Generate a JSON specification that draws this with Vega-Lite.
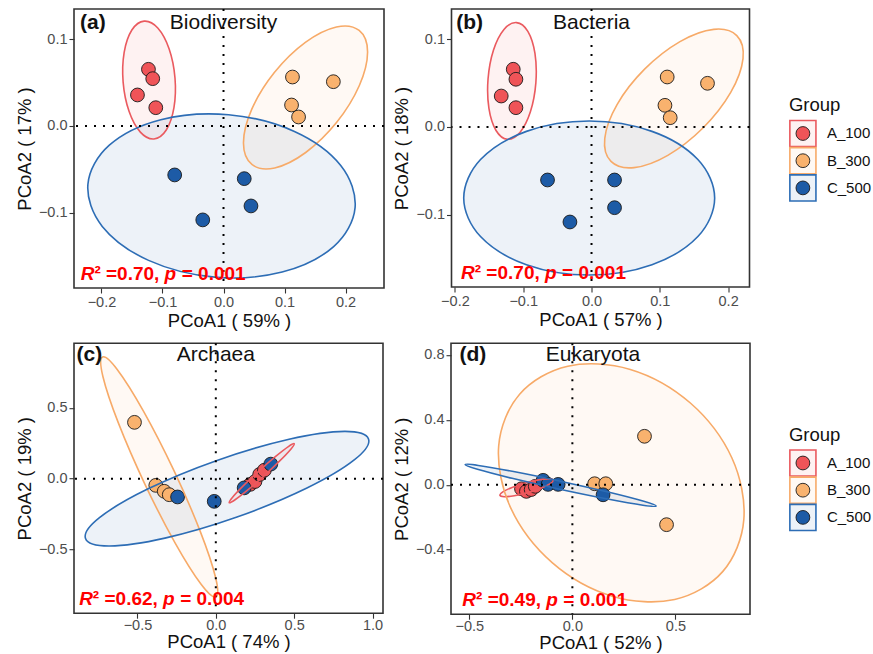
{
"$schema":"https://vega.github.io/schema/vega-lite/v6.json",
"background":"white",
"padding":{"left":14,"top":7,"right":0,"bottom":0},
"config":{"font":"Liberation Sans","view":{"stroke":"#333333","strokeWidth":1.6},
"axis":{"domain":false,"grid":false,"ticks":true,"tickColor":"#333333","tickSize":5,"tickWidth":1.1,"labelFontSize":14.5,"labelColor":"#4D4D4D","labelPadding":2,"titleFontSize":18.5,"titleFontWeight":"normal","titleColor":"#111111"}},
"datasets":{
"pa":[{"g":"A_100","x":-0.123,"y":0.0654},{"g":"A_100","x":-0.116,"y":0.0546},{"g":"A_100","x":-0.141,"y":0.0358},{"g":"A_100","x":-0.111,"y":0.0211},{"g":"B_300","x":0.113,"y":0.0565},{"g":"B_300","x":0.18,"y":0.0511},{"g":"B_300","x":0.1115,"y":0.0242},{"g":"B_300","x":0.123,"y":0.0104},{"g":"C_500","x":-0.08,"y":-0.0565},{"g":"C_500","x":-0.034,"y":-0.1084},{"g":"C_500","x":0.034,"y":-0.0608},{"g":"C_500","x":0.045,"y":-0.0923}],
"pb":[{"g":"A_100","x":-0.1146,"y":0.0658},{"g":"A_100","x":-0.1107,"y":0.0544},{"g":"A_100","x":-0.1322,"y":0.0353},{"g":"A_100","x":-0.1107,"y":0.022},{"g":"B_300","x":0.1108,"y":0.057},{"g":"B_300","x":0.1698,"y":0.0498},{"g":"B_300","x":0.1075,"y":0.0247},{"g":"B_300","x":0.1152,"y":0.0106},{"g":"C_500","x":-0.0644,"y":-0.0604},{"g":"C_500","x":-0.0316,"y":-0.1083},{"g":"C_500","x":0.0337,"y":-0.0604},{"g":"C_500","x":0.0337,"y":-0.092}],
"pc":[{"g":"A_100","x":0.22,"y":-0.04},{"g":"A_100","x":0.25,"y":-0.02},{"g":"A_100","x":0.28,"y":0.03},{"g":"A_100","x":0.31,"y":0.06},{"g":"B_300","x":-0.519,"y":0.398},{"g":"B_300","x":-0.383,"y":-0.047},{"g":"B_300","x":-0.329,"y":-0.089},{"g":"B_300","x":-0.297,"y":-0.113},{"g":"C_500","x":-0.244,"y":-0.129},{"g":"C_500","x":-0.01,"y":-0.16},{"g":"C_500","x":0.181,"y":-0.065},{"g":"C_500","x":0.351,"y":0.103}],
"pd":[{"g":"A_100","x":-0.247,"y":-0.025},{"g":"A_100","x":-0.223,"y":-0.041},{"g":"A_100","x":-0.2,"y":-0.03},{"g":"A_100","x":-0.18,"y":-0.01},{"g":"B_300","x":0.35,"y":0.298},{"g":"B_300","x":0.457,"y":-0.246},{"g":"B_300","x":0.108,"y":0.006},{"g":"B_300","x":0.162,"y":0.006},{"g":"C_500","x":0.149,"y":-0.062},{"g":"C_500","x":-0.142,"y":0.027},{"g":"C_500","x":-0.118,"y":0.002},{"g":"C_500","x":-0.069,"y":0.002}],
"ea":[
{"g":"A_100","k":0,"x":-0.13,"y":0.121},{"g":"A_100","k":1,"x":-0.1077,"y":0.1131},{"g":"A_100","k":2,"x":-0.0892,"y":0.0891},{"g":"A_100","k":3,"x":-0.0795,"y":0.0554},{"g":"A_100","k":4,"x":-0.0812,"y":0.0211},{"g":"A_100","k":5,"x":-0.0938,"y":-0.0047},{"g":"A_100","k":6,"x":-0.114,"y":-0.015},{"g":"A_100","k":7,"x":-0.1363,"y":-0.0071},{"g":"A_100","k":8,"x":-0.1548,"y":0.0169},{"g":"A_100","k":9,"x":-0.1645,"y":0.0506},{"g":"A_100","k":10,"x":-0.1628,"y":0.0849},{"g":"A_100","k":11,"x":-0.1502,"y":0.1107},
{"g":"B_300","k":0,"x":0.2223,"y":0.1102},{"g":"B_300","k":1,"x":0.2361,"y":0.0855},{"g":"B_300","k":2,"x":0.2226,"y":0.0467},{"g":"B_300","k":3,"x":0.1855,"y":0.0042},{"g":"B_300","k":4,"x":0.1347,"y":-0.0306},{"g":"B_300","k":5,"x":0.0839,"y":-0.0484},{"g":"B_300","k":6,"x":0.0465,"y":-0.0444},{"g":"B_300","k":7,"x":0.0327,"y":-0.0197},{"g":"B_300","k":8,"x":0.0462,"y":0.0191},{"g":"B_300","k":9,"x":0.0833,"y":0.0616},{"g":"B_300","k":10,"x":0.1341,"y":0.0964},{"g":"B_300","k":11,"x":0.185,"y":0.1142},
{"g":"C_500","k":0,"x":0.2156,"y":-0.0942},{"g":"C_500","k":1,"x":0.1805,"y":-0.1392},{"g":"C_500","k":2,"x":0.0961,"y":-0.1686},{"g":"C_500","k":3,"x":-0.0149,"y":-0.1744},{"g":"C_500","k":4,"x":-0.1228,"y":-0.1551},{"g":"C_500","k":5,"x":-0.1987,"y":-0.1159},{"g":"C_500","k":6,"x":-0.2222,"y":-0.0672},{"g":"C_500","k":7,"x":-0.1871,"y":-0.0222},{"g":"C_500","k":8,"x":-0.1027,"y":0.0072},{"g":"C_500","k":9,"x":0.0083,"y":0.013},{"g":"C_500","k":10,"x":0.1162,"y":-0.0063},{"g":"C_500","k":11,"x":0.1921,"y":-0.0455}],
"eb":[
{"g":"A_100","k":0,"x":-0.1098,"y":0.119},{"g":"A_100","k":1,"x":-0.0932,"y":0.109},{"g":"A_100","k":2,"x":-0.0828,"y":0.0838},{"g":"A_100","k":3,"x":-0.0815,"y":0.0503},{"g":"A_100","k":4,"x":-0.0895,"y":0.0173},{"g":"A_100","k":5,"x":-0.1048,"y":-0.0062},{"g":"A_100","k":6,"x":-0.1232,"y":-0.014},{"g":"A_100","k":7,"x":-0.1398,"y":-0.004},{"g":"A_100","k":8,"x":-0.1502,"y":0.0212},{"g":"A_100","k":9,"x":-0.1515,"y":0.0547},{"g":"A_100","k":10,"x":-0.1435,"y":0.0877},{"g":"A_100","k":11,"x":-0.1282,"y":0.1112},
{"g":"B_300","k":0,"x":0.2127,"y":0.1042},{"g":"B_300","k":1,"x":0.2218,"y":0.0779},{"g":"B_300","k":2,"x":0.2038,"y":0.0394},{"g":"B_300","k":3,"x":0.1635,"y":-0.0009},{"g":"B_300","k":4,"x":0.1117,"y":-0.0323},{"g":"B_300","k":5,"x":0.0623,"y":-0.0463},{"g":"B_300","k":6,"x":0.0285,"y":-0.0392},{"g":"B_300","k":7,"x":0.0194,"y":-0.0129},{"g":"B_300","k":8,"x":0.0374,"y":0.0256},{"g":"B_300","k":9,"x":0.0777,"y":0.0659},{"g":"B_300","k":10,"x":0.1295,"y":0.0973},{"g":"B_300","k":11,"x":0.1789,"y":0.1113},
{"g":"C_500","k":0,"x":0.1803,"y":-0.081},{"g":"C_500","k":1,"x":0.1557,"y":-0.0371},{"g":"C_500","k":2,"x":0.0885,"y":-0.005},{"g":"C_500","k":3,"x":-0.0034,"y":0.0068},{"g":"C_500","k":4,"x":-0.0953,"y":-0.005},{"g":"C_500","k":5,"x":-0.1625,"y":-0.0371},{"g":"C_500","k":6,"x":-0.1871,"y":-0.081},{"g":"C_500","k":7,"x":-0.1625,"y":-0.1249},{"g":"C_500","k":8,"x":-0.0953,"y":-0.157},{"g":"C_500","k":9,"x":-0.0034,"y":-0.1688},{"g":"C_500","k":10,"x":0.0885,"y":-0.157},{"g":"C_500","k":11,"x":0.1557,"y":-0.1249}],
"ec":[
{"g":"A_100","k":0,"x":0.5004,"y":0.2473},{"g":"A_100","k":1,"x":0.4801,"y":0.2102},{"g":"A_100","k":2,"x":0.4096,"y":0.1272},{"g":"A_100","k":3,"x":0.3079,"y":0.0206},{"g":"A_100","k":4,"x":0.2022,"y":-0.0811},{"g":"A_100","k":5,"x":0.1208,"y":-0.1506},{"g":"A_100","k":6,"x":0.0856,"y":-0.1693},{"g":"A_100","k":7,"x":0.1059,"y":-0.1322},{"g":"A_100","k":8,"x":0.1764,"y":-0.0492},{"g":"A_100","k":9,"x":0.2781,"y":0.0574},{"g":"A_100","k":10,"x":0.3838,"y":0.1591},{"g":"A_100","k":11,"x":0.4652,"y":0.2286},
{"g":"B_300","k":0,"x":0.0008,"y":-0.8355},{"g":"B_300","k":1,"x":-0.0014,"y":-0.6979},{"g":"B_300","k":2,"x":-0.1,"y":-0.3702},{"g":"B_300","k":3,"x":-0.2685,"y":0.06},{"g":"B_300","k":4,"x":-0.4618,"y":0.4773},{"g":"B_300","k":5,"x":-0.6281,"y":0.7699},{"g":"B_300","k":6,"x":-0.7228,"y":0.8595},{"g":"B_300","k":7,"x":-0.7206,"y":0.7219},{"g":"B_300","k":8,"x":-0.622,"y":0.3942},{"g":"B_300","k":9,"x":-0.4535,"y":-0.036},{"g":"B_300","k":10,"x":-0.2602,"y":-0.4533},{"g":"B_300","k":11,"x":-0.0939,"y":-0.7459},
{"g":"C_500","k":0,"x":0.9745,"y":0.2811},{"g":"C_500","k":1,"x":0.8854,"y":0.134},{"g":"C_500","k":2,"x":0.5783,"y":-0.0679},{"g":"C_500","k":3,"x":0.1353,"y":-0.2705},{"g":"C_500","k":4,"x":-0.3248,"y":-0.4196},{"g":"C_500","k":5,"x":-0.6786,"y":-0.4751},{"g":"C_500","k":6,"x":-0.8315,"y":-0.4223},{"g":"C_500","k":7,"x":-0.7424,"y":-0.2752},{"g":"C_500","k":8,"x":-0.4353,"y":-0.0733},{"g":"C_500","k":9,"x":0.0077,"y":0.1293},{"g":"C_500","k":10,"x":0.4678,"y":0.2784},{"g":"C_500","k":11,"x":0.8216,"y":0.3339}],
"ed":[
{"g":"A_100","k":0,"x":-0.0934,"y":0.0271},{"g":"A_100","k":1,"x":-0.1075,"y":0.0062},{"g":"A_100","k":2,"x":-0.1524,"y":-0.0216},{"g":"A_100","k":3,"x":-0.2161,"y":-0.0486},{"g":"A_100","k":4,"x":-0.2816,"y":-0.0678},{"g":"A_100","k":5,"x":-0.3312,"y":-0.0739},{"g":"A_100","k":6,"x":-0.3518,"y":-0.0653},{"g":"A_100","k":7,"x":-0.3377,"y":-0.0444},{"g":"A_100","k":8,"x":-0.2928,"y":-0.0166},{"g":"A_100","k":9,"x":-0.2291,"y":0.0104},{"g":"A_100","k":10,"x":-0.1636,"y":0.0296},{"g":"A_100","k":11,"x":-0.114,"y":0.0357},
{"g":"B_300","k":0,"x":0.7304,"y":-0.5335},{"g":"B_300","k":1,"x":0.4966,"y":-0.706},{"g":"B_300","k":2,"x":0.1933,"y":-0.6862},{"g":"B_300","k":3,"x":-0.0982,"y":-0.4794},{"g":"B_300","k":4,"x":-0.2999,"y":-0.141},{"g":"B_300","k":5,"x":-0.3576,"y":0.2383},{"g":"B_300","k":6,"x":-0.256,"y":0.5569},{"g":"B_300","k":7,"x":-0.0222,"y":0.7294},{"g":"B_300","k":8,"x":0.2811,"y":0.7096},{"g":"B_300","k":9,"x":0.5726,"y":0.5028},{"g":"B_300","k":10,"x":0.7743,"y":0.1644},{"g":"B_300","k":11,"x":0.832,"y":-0.2149},
{"g":"C_500","k":0,"x":0.4066,"y":-0.1311},{"g":"C_500","k":1,"x":0.3424,"y":-0.126},{"g":"C_500","k":2,"x":0.1712,"y":-0.0882},{"g":"C_500","k":3,"x":-0.0612,"y":-0.0277},{"g":"C_500","k":4,"x":-0.2925,"y":0.0392},{"g":"C_500","k":5,"x":-0.4607,"y":0.0946},{"g":"C_500","k":6,"x":-0.5208,"y":0.1237},{"g":"C_500","k":7,"x":-0.4566,"y":0.1186},{"g":"C_500","k":8,"x":-0.2854,"y":0.0808},{"g":"C_500","k":9,"x":-0.053,"y":0.0203},{"g":"C_500","k":10,"x":0.1783,"y":-0.0466},{"g":"C_500","k":11,"x":0.3465,"y":-0.102}],
"sa":[{"x":-0.234,"y":-0.171,"r":"R","r2":"\u00b2\u00a0=0.70,\u00a0","p":"p","pv":"=\u00a00.001"}],
"sb":[{"x":-0.191,"y":-0.167,"r":"R","r2":"\u00b2\u00a0=0.70,\u00a0","p":"p","pv":"=\u00a00.001"}],
"sc":[{"x":-0.872,"y":-0.847,"r":"R","r2":"\u00b2\u00a0=0.62,\u00a0","p":"p","pv":"=\u00a00.004"}],
"sd":[{"x":-0.534,"y":-0.711,"r":"R","r2":"\u00b2\u00a0=0.49,\u00a0","p":"p","pv":"=\u00a00.001"}],
"grp":[{"g":"A_100","pos":1},{"g":"B_300","pos":2},{"g":"C_500","pos":3}],
"gt":[{"g":"Group","pos":0}]
},
"vconcat":[
{"hconcat":[
{"hconcat":[
{"width":310,"height":279,"layer":[
{"data":{"name":"ea"},"mark":{"type":"line","interpolate":"cardinal-closed","fillOpacity":0.08,"strokeOpacity":0},"encoding":{"x":{"field":"x","type":"quantitative","scale":{"domain":[-0.245,0.263],"nice":false,"zero":false},"axis":{"values":[-0.2,-0.1,0,0.1,0.2],"format":".1f","title":"PCoA1 ( 59% )","titlePadding":2.5}},"y":{"field":"y","type":"quantitative","scale":{"domain":[-0.187,0.135],"nice":false,"zero":false},"axis":{"values":[-0.1,0,0.1],"format":".1f","title":"PCoA2 ( 17% )","titlePadding":4}},"order":{"field":"k","type":"quantitative"},"fill":{"field":"g","type":"nominal","scale":{"domain":["A_100","B_300","C_500"],"range":["#EF5458","#F9B26E","#1D5BA6"]},"legend":null}}},
{"data":{"name":"pa"},"mark":{"type":"point","filled":true,"size":190,"stroke":"#1a1a1a","strokeWidth":0.9,"opacity":1},"encoding":{"x":{"field":"x","type":"quantitative","scale":{"domain":[-0.245,0.263],"nice":false,"zero":false},"axis":{"values":[-0.2,-0.1,0,0.1,0.2],"format":".1f","title":"PCoA1 ( 59% )","titlePadding":2.5}},"y":{"field":"y","type":"quantitative","scale":{"domain":[-0.187,0.135],"nice":false,"zero":false},"axis":{"values":[-0.1,0,0.1],"format":".1f","title":"PCoA2 ( 17% )","titlePadding":4}},"fill":{"field":"g","type":"nominal","scale":{"domain":["A_100","B_300","C_500"],"range":["#EF5458","#F9B26E","#1D5BA6"]},"legend":null}}},
{"data":{"name":"ea"},"mark":{"type":"line","interpolate":"cardinal-closed","strokeWidth":1.6},"encoding":{"x":{"field":"x","type":"quantitative","scale":{"domain":[-0.245,0.263],"nice":false,"zero":false},"axis":{"values":[-0.2,-0.1,0,0.1,0.2],"format":".1f","title":"PCoA1 ( 59% )","titlePadding":2.5}},"y":{"field":"y","type":"quantitative","scale":{"domain":[-0.187,0.135],"nice":false,"zero":false},"axis":{"values":[-0.1,0,0.1],"format":".1f","title":"PCoA2 ( 17% )","titlePadding":4}},"order":{"field":"k","type":"quantitative"},"stroke":{"field":"g","type":"nominal","scale":{"domain":["A_100","B_300","C_500"],"range":["#EA5A5F","#F7AA68","#2D6DB5"]},"legend":null}}},
{"data":{"values":[{}]},"mark":{"type":"rule","strokeDash":[2,7],"strokeWidth":2,"color":"#000000"},"encoding":{"x":{"datum":0,"type":"quantitative","scale":{"domain":[-0.245,0.263],"nice":false,"zero":false},"axis":{"values":[-0.2,-0.1,0,0.1,0.2],"format":".1f","title":"PCoA1 ( 59% )","titlePadding":2.5}}}},
{"data":{"values":[{}]},"mark":{"type":"rule","strokeDash":[2,7],"strokeWidth":2,"color":"#000000"},"encoding":{"y":{"datum":0,"type":"quantitative","scale":{"domain":[-0.187,0.135],"nice":false,"zero":false},"axis":{"values":[-0.1,0,0.1],"format":".1f","title":"PCoA2 ( 17% )","titlePadding":4}}}},
{"data":{"values":[{"x":-0.235,"y":0.119,"t":"(a)"}]},"mark":{"type":"text","align":"left","baseline":"middle","fontSize":21,"fontWeight":"bold","color":"#111111"},"encoding":{"x":{"field":"x","type":"quantitative","scale":{"domain":[-0.245,0.263],"nice":false,"zero":false},"axis":{"values":[-0.2,-0.1,0,0.1,0.2],"format":".1f","title":"PCoA1 ( 59% )","titlePadding":2.5}},"y":{"field":"y","type":"quantitative","scale":{"domain":[-0.187,0.135],"nice":false,"zero":false},"axis":{"values":[-0.1,0,0.1],"format":".1f","title":"PCoA2 ( 17% )","titlePadding":4}},"text":{"field":"t"}}},
{"data":{"values":[{"x":0,"y":0.119,"t":"Biodiversity"}]},"mark":{"type":"text","align":"center","baseline":"middle","fontSize":21,"color":"#111111"},"encoding":{"x":{"field":"x","type":"quantitative","scale":{"domain":[-0.245,0.263],"nice":false,"zero":false},"axis":{"values":[-0.2,-0.1,0,0.1,0.2],"format":".1f","title":"PCoA1 ( 59% )","titlePadding":2.5}},"y":{"field":"y","type":"quantitative","scale":{"domain":[-0.187,0.135],"nice":false,"zero":false},"axis":{"values":[-0.1,0,0.1],"format":".1f","title":"PCoA2 ( 17% )","titlePadding":4}},"text":{"field":"t"}}},
{"data":{"name":"sa"},"mark":{"type":"text","align":"left","baseline":"middle","fontSize":19,"fontWeight":"bold","fontStyle":"italic","color":"#FF0000"},"encoding":{"x":{"field":"x","type":"quantitative","scale":{"domain":[-0.245,0.263],"nice":false,"zero":false},"axis":{"values":[-0.2,-0.1,0,0.1,0.2],"format":".1f","title":"PCoA1 ( 59% )","titlePadding":2.5}},"y":{"field":"y","type":"quantitative","scale":{"domain":[-0.187,0.135],"nice":false,"zero":false},"axis":{"values":[-0.1,0,0.1],"format":".1f","title":"PCoA2 ( 17% )","titlePadding":4}},"text":{"field":"r"}}},
{"data":{"name":"sa"},"mark":{"type":"text","align":"left","baseline":"middle","fontSize":19,"fontWeight":"bold","dx":13.7,"color":"#FF0000"},"encoding":{"x":{"field":"x","type":"quantitative","scale":{"domain":[-0.245,0.263],"nice":false,"zero":false},"axis":{"values":[-0.2,-0.1,0,0.1,0.2],"format":".1f","title":"PCoA1 ( 59% )","titlePadding":2.5}},"y":{"field":"y","type":"quantitative","scale":{"domain":[-0.187,0.135],"nice":false,"zero":false},"axis":{"values":[-0.1,0,0.1],"format":".1f","title":"PCoA2 ( 17% )","titlePadding":4}},"text":{"field":"r2"}}},
{"data":{"name":"sa"},"mark":{"type":"text","align":"left","baseline":"middle","fontSize":19,"fontWeight":"bold","fontStyle":"italic","dx":83.9,"color":"#FF0000"},"encoding":{"x":{"field":"x","type":"quantitative","scale":{"domain":[-0.245,0.263],"nice":false,"zero":false},"axis":{"values":[-0.2,-0.1,0,0.1,0.2],"format":".1f","title":"PCoA1 ( 59% )","titlePadding":2.5}},"y":{"field":"y","type":"quantitative","scale":{"domain":[-0.187,0.135],"nice":false,"zero":false},"axis":{"values":[-0.1,0,0.1],"format":".1f","title":"PCoA2 ( 17% )","titlePadding":4}},"text":{"field":"p"}}},
{"data":{"name":"sa"},"mark":{"type":"text","align":"left","baseline":"middle","fontSize":19,"fontWeight":"bold","dx":101,"color":"#FF0000"},"encoding":{"x":{"field":"x","type":"quantitative","scale":{"domain":[-0.245,0.263],"nice":false,"zero":false},"axis":{"values":[-0.2,-0.1,0,0.1,0.2],"format":".1f","title":"PCoA1 ( 59% )","titlePadding":2.5}},"y":{"field":"y","type":"quantitative","scale":{"domain":[-0.187,0.135],"nice":false,"zero":false},"axis":{"values":[-0.1,0,0.1],"format":".1f","title":"PCoA2 ( 17% )","titlePadding":4}},"text":{"field":"pv"}}}
]},
{"width":298,"height":278,"layer":[
{"data":{"name":"eb"},"mark":{"type":"line","interpolate":"cardinal-closed","fillOpacity":0.08,"strokeOpacity":0},"encoding":{"x":{"field":"x","type":"quantitative","scale":{"domain":[-0.205,0.2313],"nice":false,"zero":false},"axis":{"values":[-0.2,-0.1,0,0.1,0.2],"format":".1f","title":"PCoA1 ( 57% )","titlePadding":2.5}},"y":{"field":"y","type":"quantitative","scale":{"domain":[-0.1824,0.1345],"nice":false,"zero":false},"axis":{"values":[-0.1,0,0.1],"format":".1f","title":"PCoA2 ( 18% )","titlePadding":4.5}},"order":{"field":"k","type":"quantitative"},"fill":{"field":"g","type":"nominal","scale":{"domain":["A_100","B_300","C_500"],"range":["#EF5458","#F9B26E","#1D5BA6"]},"legend":null}}},
{"data":{"name":"pb"},"mark":{"type":"point","filled":true,"size":190,"stroke":"#1a1a1a","strokeWidth":0.9,"opacity":1},"encoding":{"x":{"field":"x","type":"quantitative","scale":{"domain":[-0.205,0.2313],"nice":false,"zero":false},"axis":{"values":[-0.2,-0.1,0,0.1,0.2],"format":".1f","title":"PCoA1 ( 57% )","titlePadding":2.5}},"y":{"field":"y","type":"quantitative","scale":{"domain":[-0.1824,0.1345],"nice":false,"zero":false},"axis":{"values":[-0.1,0,0.1],"format":".1f","title":"PCoA2 ( 18% )","titlePadding":4.5}},"fill":{"field":"g","type":"nominal","scale":{"domain":["A_100","B_300","C_500"],"range":["#EF5458","#F9B26E","#1D5BA6"]},"legend":null}}},
{"data":{"name":"eb"},"mark":{"type":"line","interpolate":"cardinal-closed","strokeWidth":1.6},"encoding":{"x":{"field":"x","type":"quantitative","scale":{"domain":[-0.205,0.2313],"nice":false,"zero":false},"axis":{"values":[-0.2,-0.1,0,0.1,0.2],"format":".1f","title":"PCoA1 ( 57% )","titlePadding":2.5}},"y":{"field":"y","type":"quantitative","scale":{"domain":[-0.1824,0.1345],"nice":false,"zero":false},"axis":{"values":[-0.1,0,0.1],"format":".1f","title":"PCoA2 ( 18% )","titlePadding":4.5}},"order":{"field":"k","type":"quantitative"},"stroke":{"field":"g","type":"nominal","scale":{"domain":["A_100","B_300","C_500"],"range":["#EA5A5F","#F7AA68","#2D6DB5"]},"legend":null}}},
{"data":{"values":[{}]},"mark":{"type":"rule","strokeDash":[2,7],"strokeWidth":2,"color":"#000000"},"encoding":{"x":{"datum":0,"type":"quantitative","scale":{"domain":[-0.205,0.2313],"nice":false,"zero":false},"axis":{"values":[-0.2,-0.1,0,0.1,0.2],"format":".1f","title":"PCoA1 ( 57% )","titlePadding":2.5}}}},
{"data":{"values":[{}]},"mark":{"type":"rule","strokeDash":[2,7],"strokeWidth":2,"color":"#000000"},"encoding":{"y":{"datum":0,"type":"quantitative","scale":{"domain":[-0.1824,0.1345],"nice":false,"zero":false},"axis":{"values":[-0.1,0,0.1],"format":".1f","title":"PCoA2 ( 18% )","titlePadding":4.5}}}},
{"data":{"values":[{"x":-0.198,"y":0.1186,"t":"(b)"}]},"mark":{"type":"text","align":"left","baseline":"middle","fontSize":21,"fontWeight":"bold","color":"#111111"},"encoding":{"x":{"field":"x","type":"quantitative","scale":{"domain":[-0.205,0.2313],"nice":false,"zero":false},"axis":{"values":[-0.2,-0.1,0,0.1,0.2],"format":".1f","title":"PCoA1 ( 57% )","titlePadding":2.5}},"y":{"field":"y","type":"quantitative","scale":{"domain":[-0.1824,0.1345],"nice":false,"zero":false},"axis":{"values":[-0.1,0,0.1],"format":".1f","title":"PCoA2 ( 18% )","titlePadding":4.5}},"text":{"field":"t"}}},
{"data":{"values":[{"x":0,"y":0.1186,"t":"Bacteria"}]},"mark":{"type":"text","align":"center","baseline":"middle","fontSize":21,"color":"#111111"},"encoding":{"x":{"field":"x","type":"quantitative","scale":{"domain":[-0.205,0.2313],"nice":false,"zero":false},"axis":{"values":[-0.2,-0.1,0,0.1,0.2],"format":".1f","title":"PCoA1 ( 57% )","titlePadding":2.5}},"y":{"field":"y","type":"quantitative","scale":{"domain":[-0.1824,0.1345],"nice":false,"zero":false},"axis":{"values":[-0.1,0,0.1],"format":".1f","title":"PCoA2 ( 18% )","titlePadding":4.5}},"text":{"field":"t"}}},
{"data":{"name":"sb"},"mark":{"type":"text","align":"left","baseline":"middle","fontSize":19,"fontWeight":"bold","fontStyle":"italic","color":"#FF0000"},"encoding":{"x":{"field":"x","type":"quantitative","scale":{"domain":[-0.205,0.2313],"nice":false,"zero":false},"axis":{"values":[-0.2,-0.1,0,0.1,0.2],"format":".1f","title":"PCoA1 ( 57% )","titlePadding":2.5}},"y":{"field":"y","type":"quantitative","scale":{"domain":[-0.1824,0.1345],"nice":false,"zero":false},"axis":{"values":[-0.1,0,0.1],"format":".1f","title":"PCoA2 ( 18% )","titlePadding":4.5}},"text":{"field":"r"}}},
{"data":{"name":"sb"},"mark":{"type":"text","align":"left","baseline":"middle","fontSize":19,"fontWeight":"bold","dx":13.7,"color":"#FF0000"},"encoding":{"x":{"field":"x","type":"quantitative","scale":{"domain":[-0.205,0.2313],"nice":false,"zero":false},"axis":{"values":[-0.2,-0.1,0,0.1,0.2],"format":".1f","title":"PCoA1 ( 57% )","titlePadding":2.5}},"y":{"field":"y","type":"quantitative","scale":{"domain":[-0.1824,0.1345],"nice":false,"zero":false},"axis":{"values":[-0.1,0,0.1],"format":".1f","title":"PCoA2 ( 18% )","titlePadding":4.5}},"text":{"field":"r2"}}},
{"data":{"name":"sb"},"mark":{"type":"text","align":"left","baseline":"middle","fontSize":19,"fontWeight":"bold","fontStyle":"italic","dx":83.9,"color":"#FF0000"},"encoding":{"x":{"field":"x","type":"quantitative","scale":{"domain":[-0.205,0.2313],"nice":false,"zero":false},"axis":{"values":[-0.2,-0.1,0,0.1,0.2],"format":".1f","title":"PCoA1 ( 57% )","titlePadding":2.5}},"y":{"field":"y","type":"quantitative","scale":{"domain":[-0.1824,0.1345],"nice":false,"zero":false},"axis":{"values":[-0.1,0,0.1],"format":".1f","title":"PCoA2 ( 18% )","titlePadding":4.5}},"text":{"field":"p"}}},
{"data":{"name":"sb"},"mark":{"type":"text","align":"left","baseline":"middle","fontSize":19,"fontWeight":"bold","dx":101,"color":"#FF0000"},"encoding":{"x":{"field":"x","type":"quantitative","scale":{"domain":[-0.205,0.2313],"nice":false,"zero":false},"axis":{"values":[-0.2,-0.1,0,0.1,0.2],"format":".1f","title":"PCoA1 ( 57% )","titlePadding":2.5}},"y":{"field":"y","type":"quantitative","scale":{"domain":[-0.1824,0.1345],"nice":false,"zero":false},"axis":{"values":[-0.1,0,0.1],"format":".1f","title":"PCoA2 ( 18% )","titlePadding":4.5}},"text":{"field":"pv"}}}
]}
],"spacing":5.5},
{"width":28,"height":279,"view":{"stroke":"transparent","fill":"transparent"},"layer":[
{"data":{"name":"gt"},"mark":{"type":"text","align":"left","baseline":"middle","dx":-14,"dy":-1,"fontSize":18.5,"color":"#111111"},"encoding":{"y":{"field":"pos","type":"quantitative","scale":{"domain":[-3.577,6.68],"reverse":true,"nice":false,"zero":false},"axis":null},"text":{"field":"g"}}},
{"data":{"name":"grp"},"mark":{"type":"square","size":680,"filled":true,"opacity":1,"fillOpacity":0.08,"strokeWidth":1.6},"encoding":{"y":{"field":"pos","type":"quantitative","scale":{"domain":[-3.577,6.68],"reverse":true,"nice":false,"zero":false},"axis":null},"fill":{"field":"g","type":"nominal","scale":{"domain":["A_100","B_300","C_500"],"range":["#EF5458","#F9B26E","#1D5BA6"]},"legend":null},"stroke":{"field":"g","type":"nominal","scale":{"domain":["A_100","B_300","C_500"],"range":["#EA5A5F","#F7AA68","#2D6DB5"]},"legend":null}}},
{"data":{"name":"grp"},"mark":{"type":"point","filled":true,"size":190,"stroke":"#1a1a1a","strokeWidth":0.9,"opacity":1},"encoding":{"y":{"field":"pos","type":"quantitative","scale":{"domain":[-3.577,6.68],"reverse":true,"nice":false,"zero":false},"axis":null},"fill":{"field":"g","type":"nominal","scale":{"domain":["A_100","B_300","C_500"],"range":["#EF5458","#F9B26E","#1D5BA6"]},"legend":null}}},
{"data":{"name":"grp"},"mark":{"type":"text","align":"left","baseline":"middle","dx":24,"fontSize":15,"color":"#111111"},"encoding":{"y":{"field":"pos","type":"quantitative","scale":{"domain":[-3.577,6.68],"reverse":true,"nice":false,"zero":false},"axis":null},"text":{"field":"g"}}}
]}
],"spacing":32.9},
{"hconcat":[
{"hconcat":[
{"width":309,"height":270,"layer":[
{"data":{"name":"ec"},"mark":{"type":"line","interpolate":"cardinal-closed","fillOpacity":0.08,"strokeOpacity":0},"encoding":{"x":{"field":"x","type":"quantitative","scale":{"domain":[-0.905,1.067],"nice":false,"zero":false},"axis":{"values":[-0.5,0,0.5,1],"format":".1f","title":"PCoA1 ( 74% )","labelPadding":0,"titlePadding":1}},"y":{"field":"y","type":"quantitative","scale":{"domain":[-0.95,0.957],"nice":false,"zero":false},"axis":{"values":[-0.5,0,0.5],"format":".1f","title":"PCoA2 ( 19% )","titlePadding":4}},"order":{"field":"k","type":"quantitative"},"fill":{"field":"g","type":"nominal","scale":{"domain":["A_100","B_300","C_500"],"range":["#EF5458","#F9B26E","#1D5BA6"]},"legend":null}}},
{"data":{"name":"pc"},"mark":{"type":"point","filled":true,"size":190,"stroke":"#1a1a1a","strokeWidth":0.9,"opacity":1},"encoding":{"x":{"field":"x","type":"quantitative","scale":{"domain":[-0.905,1.067],"nice":false,"zero":false},"axis":{"values":[-0.5,0,0.5,1],"format":".1f","title":"PCoA1 ( 74% )","labelPadding":0,"titlePadding":1}},"y":{"field":"y","type":"quantitative","scale":{"domain":[-0.95,0.957],"nice":false,"zero":false},"axis":{"values":[-0.5,0,0.5],"format":".1f","title":"PCoA2 ( 19% )","titlePadding":4}},"fill":{"field":"g","type":"nominal","scale":{"domain":["A_100","B_300","C_500"],"range":["#EF5458","#F9B26E","#1D5BA6"]},"legend":null}}},
{"data":{"name":"ec"},"mark":{"type":"line","interpolate":"cardinal-closed","strokeWidth":1.6},"encoding":{"x":{"field":"x","type":"quantitative","scale":{"domain":[-0.905,1.067],"nice":false,"zero":false},"axis":{"values":[-0.5,0,0.5,1],"format":".1f","title":"PCoA1 ( 74% )","labelPadding":0,"titlePadding":1}},"y":{"field":"y","type":"quantitative","scale":{"domain":[-0.95,0.957],"nice":false,"zero":false},"axis":{"values":[-0.5,0,0.5],"format":".1f","title":"PCoA2 ( 19% )","titlePadding":4}},"order":{"field":"k","type":"quantitative"},"stroke":{"field":"g","type":"nominal","scale":{"domain":["A_100","B_300","C_500"],"range":["#EA5A5F","#F7AA68","#2D6DB5"]},"legend":null}}},
{"data":{"values":[{}]},"mark":{"type":"rule","strokeDash":[2,7],"strokeWidth":2,"color":"#000000"},"encoding":{"x":{"datum":0,"type":"quantitative","scale":{"domain":[-0.905,1.067],"nice":false,"zero":false},"axis":{"values":[-0.5,0,0.5,1],"format":".1f","title":"PCoA1 ( 74% )","labelPadding":0,"titlePadding":1}}}},
{"data":{"values":[{}]},"mark":{"type":"rule","strokeDash":[2,7],"strokeWidth":2,"color":"#000000"},"encoding":{"y":{"datum":0,"type":"quantitative","scale":{"domain":[-0.95,0.957],"nice":false,"zero":false},"axis":{"values":[-0.5,0,0.5],"format":".1f","title":"PCoA2 ( 19% )","titlePadding":4}}}},
{"data":{"values":[{"x":-0.889,"y":0.871,"t":"(c)"}]},"mark":{"type":"text","align":"left","baseline":"middle","fontSize":21,"fontWeight":"bold","color":"#111111"},"encoding":{"x":{"field":"x","type":"quantitative","scale":{"domain":[-0.905,1.067],"nice":false,"zero":false},"axis":{"values":[-0.5,0,0.5,1],"format":".1f","title":"PCoA1 ( 74% )","labelPadding":0,"titlePadding":1}},"y":{"field":"y","type":"quantitative","scale":{"domain":[-0.95,0.957],"nice":false,"zero":false},"axis":{"values":[-0.5,0,0.5],"format":".1f","title":"PCoA2 ( 19% )","titlePadding":4}},"text":{"field":"t"}}},
{"data":{"values":[{"x":0,"y":0.871,"t":"Archaea"}]},"mark":{"type":"text","align":"center","baseline":"middle","fontSize":21,"color":"#111111"},"encoding":{"x":{"field":"x","type":"quantitative","scale":{"domain":[-0.905,1.067],"nice":false,"zero":false},"axis":{"values":[-0.5,0,0.5,1],"format":".1f","title":"PCoA1 ( 74% )","labelPadding":0,"titlePadding":1}},"y":{"field":"y","type":"quantitative","scale":{"domain":[-0.95,0.957],"nice":false,"zero":false},"axis":{"values":[-0.5,0,0.5],"format":".1f","title":"PCoA2 ( 19% )","titlePadding":4}},"text":{"field":"t"}}},
{"data":{"name":"sc"},"mark":{"type":"text","align":"left","baseline":"middle","fontSize":19,"fontWeight":"bold","fontStyle":"italic","color":"#FF0000"},"encoding":{"x":{"field":"x","type":"quantitative","scale":{"domain":[-0.905,1.067],"nice":false,"zero":false},"axis":{"values":[-0.5,0,0.5,1],"format":".1f","title":"PCoA1 ( 74% )","labelPadding":0,"titlePadding":1}},"y":{"field":"y","type":"quantitative","scale":{"domain":[-0.95,0.957],"nice":false,"zero":false},"axis":{"values":[-0.5,0,0.5],"format":".1f","title":"PCoA2 ( 19% )","titlePadding":4}},"text":{"field":"r"}}},
{"data":{"name":"sc"},"mark":{"type":"text","align":"left","baseline":"middle","fontSize":19,"fontWeight":"bold","dx":13.7,"color":"#FF0000"},"encoding":{"x":{"field":"x","type":"quantitative","scale":{"domain":[-0.905,1.067],"nice":false,"zero":false},"axis":{"values":[-0.5,0,0.5,1],"format":".1f","title":"PCoA1 ( 74% )","labelPadding":0,"titlePadding":1}},"y":{"field":"y","type":"quantitative","scale":{"domain":[-0.95,0.957],"nice":false,"zero":false},"axis":{"values":[-0.5,0,0.5],"format":".1f","title":"PCoA2 ( 19% )","titlePadding":4}},"text":{"field":"r2"}}},
{"data":{"name":"sc"},"mark":{"type":"text","align":"left","baseline":"middle","fontSize":19,"fontWeight":"bold","fontStyle":"italic","dx":83.9,"color":"#FF0000"},"encoding":{"x":{"field":"x","type":"quantitative","scale":{"domain":[-0.905,1.067],"nice":false,"zero":false},"axis":{"values":[-0.5,0,0.5,1],"format":".1f","title":"PCoA1 ( 74% )","labelPadding":0,"titlePadding":1}},"y":{"field":"y","type":"quantitative","scale":{"domain":[-0.95,0.957],"nice":false,"zero":false},"axis":{"values":[-0.5,0,0.5],"format":".1f","title":"PCoA2 ( 19% )","titlePadding":4}},"text":{"field":"p"}}},
{"data":{"name":"sc"},"mark":{"type":"text","align":"left","baseline":"middle","fontSize":19,"fontWeight":"bold","dx":101,"color":"#FF0000"},"encoding":{"x":{"field":"x","type":"quantitative","scale":{"domain":[-0.905,1.067],"nice":false,"zero":false},"axis":{"values":[-0.5,0,0.5,1],"format":".1f","title":"PCoA1 ( 74% )","labelPadding":0,"titlePadding":1}},"y":{"field":"y","type":"quantitative","scale":{"domain":[-0.95,0.957],"nice":false,"zero":false},"axis":{"values":[-0.5,0,0.5],"format":".1f","title":"PCoA2 ( 19% )","titlePadding":4}},"text":{"field":"pv"}}}
]},
{"width":299,"height":271,"layer":[
{"data":{"name":"ed"},"mark":{"type":"line","interpolate":"cardinal-closed","fillOpacity":0.08,"strokeOpacity":0},"encoding":{"x":{"field":"x","type":"quantitative","scale":{"domain":[-0.589,0.862],"nice":false,"zero":false},"axis":{"values":[-0.5,0,0.5],"format":".1f","title":"PCoA1 ( 52% )","labelPadding":0,"titlePadding":1}},"y":{"field":"y","type":"quantitative","scale":{"domain":[-0.797,0.871],"nice":false,"zero":false},"axis":{"values":[-0.4,0,0.4,0.8],"format":".1f","title":"PCoA2 ( 12% )","titlePadding":4}},"order":{"field":"k","type":"quantitative"},"fill":{"field":"g","type":"nominal","scale":{"domain":["A_100","B_300","C_500"],"range":["#EF5458","#F9B26E","#1D5BA6"]},"legend":null}}},
{"data":{"name":"pd"},"mark":{"type":"point","filled":true,"size":190,"stroke":"#1a1a1a","strokeWidth":0.9,"opacity":1},"encoding":{"x":{"field":"x","type":"quantitative","scale":{"domain":[-0.589,0.862],"nice":false,"zero":false},"axis":{"values":[-0.5,0,0.5],"format":".1f","title":"PCoA1 ( 52% )","labelPadding":0,"titlePadding":1}},"y":{"field":"y","type":"quantitative","scale":{"domain":[-0.797,0.871],"nice":false,"zero":false},"axis":{"values":[-0.4,0,0.4,0.8],"format":".1f","title":"PCoA2 ( 12% )","titlePadding":4}},"fill":{"field":"g","type":"nominal","scale":{"domain":["A_100","B_300","C_500"],"range":["#EF5458","#F9B26E","#1D5BA6"]},"legend":null}}},
{"data":{"name":"ed"},"mark":{"type":"line","interpolate":"cardinal-closed","strokeWidth":1.6},"encoding":{"x":{"field":"x","type":"quantitative","scale":{"domain":[-0.589,0.862],"nice":false,"zero":false},"axis":{"values":[-0.5,0,0.5],"format":".1f","title":"PCoA1 ( 52% )","labelPadding":0,"titlePadding":1}},"y":{"field":"y","type":"quantitative","scale":{"domain":[-0.797,0.871],"nice":false,"zero":false},"axis":{"values":[-0.4,0,0.4,0.8],"format":".1f","title":"PCoA2 ( 12% )","titlePadding":4}},"order":{"field":"k","type":"quantitative"},"stroke":{"field":"g","type":"nominal","scale":{"domain":["A_100","B_300","C_500"],"range":["#EA5A5F","#F7AA68","#2D6DB5"]},"legend":null}}},
{"data":{"values":[{}]},"mark":{"type":"rule","strokeDash":[2,7],"strokeWidth":2,"color":"#000000"},"encoding":{"x":{"datum":0,"type":"quantitative","scale":{"domain":[-0.589,0.862],"nice":false,"zero":false},"axis":{"values":[-0.5,0,0.5],"format":".1f","title":"PCoA1 ( 52% )","labelPadding":0,"titlePadding":1}}}},
{"data":{"values":[{}]},"mark":{"type":"rule","strokeDash":[2,7],"strokeWidth":2,"color":"#000000"},"encoding":{"y":{"datum":0,"type":"quantitative","scale":{"domain":[-0.797,0.871],"nice":false,"zero":false},"axis":{"values":[-0.4,0,0.4,0.8],"format":".1f","title":"PCoA2 ( 12% )","titlePadding":4}}}},
{"data":{"values":[{"x":-0.548,"y":0.796,"t":"(d)"}]},"mark":{"type":"text","align":"left","baseline":"middle","fontSize":21,"fontWeight":"bold","color":"#111111"},"encoding":{"x":{"field":"x","type":"quantitative","scale":{"domain":[-0.589,0.862],"nice":false,"zero":false},"axis":{"values":[-0.5,0,0.5],"format":".1f","title":"PCoA1 ( 52% )","labelPadding":0,"titlePadding":1}},"y":{"field":"y","type":"quantitative","scale":{"domain":[-0.797,0.871],"nice":false,"zero":false},"axis":{"values":[-0.4,0,0.4,0.8],"format":".1f","title":"PCoA2 ( 12% )","titlePadding":4}},"text":{"field":"t"}}},
{"data":{"values":[{"x":0.1,"y":0.796,"t":"Eukaryota"}]},"mark":{"type":"text","align":"center","baseline":"middle","fontSize":21,"color":"#111111"},"encoding":{"x":{"field":"x","type":"quantitative","scale":{"domain":[-0.589,0.862],"nice":false,"zero":false},"axis":{"values":[-0.5,0,0.5],"format":".1f","title":"PCoA1 ( 52% )","labelPadding":0,"titlePadding":1}},"y":{"field":"y","type":"quantitative","scale":{"domain":[-0.797,0.871],"nice":false,"zero":false},"axis":{"values":[-0.4,0,0.4,0.8],"format":".1f","title":"PCoA2 ( 12% )","titlePadding":4}},"text":{"field":"t"}}},
{"data":{"name":"sd"},"mark":{"type":"text","align":"left","baseline":"middle","fontSize":19,"fontWeight":"bold","fontStyle":"italic","color":"#FF0000"},"encoding":{"x":{"field":"x","type":"quantitative","scale":{"domain":[-0.589,0.862],"nice":false,"zero":false},"axis":{"values":[-0.5,0,0.5],"format":".1f","title":"PCoA1 ( 52% )","labelPadding":0,"titlePadding":1}},"y":{"field":"y","type":"quantitative","scale":{"domain":[-0.797,0.871],"nice":false,"zero":false},"axis":{"values":[-0.4,0,0.4,0.8],"format":".1f","title":"PCoA2 ( 12% )","titlePadding":4}},"text":{"field":"r"}}},
{"data":{"name":"sd"},"mark":{"type":"text","align":"left","baseline":"middle","fontSize":19,"fontWeight":"bold","dx":13.7,"color":"#FF0000"},"encoding":{"x":{"field":"x","type":"quantitative","scale":{"domain":[-0.589,0.862],"nice":false,"zero":false},"axis":{"values":[-0.5,0,0.5],"format":".1f","title":"PCoA1 ( 52% )","labelPadding":0,"titlePadding":1}},"y":{"field":"y","type":"quantitative","scale":{"domain":[-0.797,0.871],"nice":false,"zero":false},"axis":{"values":[-0.4,0,0.4,0.8],"format":".1f","title":"PCoA2 ( 12% )","titlePadding":4}},"text":{"field":"r2"}}},
{"data":{"name":"sd"},"mark":{"type":"text","align":"left","baseline":"middle","fontSize":19,"fontWeight":"bold","fontStyle":"italic","dx":83.9,"color":"#FF0000"},"encoding":{"x":{"field":"x","type":"quantitative","scale":{"domain":[-0.589,0.862],"nice":false,"zero":false},"axis":{"values":[-0.5,0,0.5],"format":".1f","title":"PCoA1 ( 52% )","labelPadding":0,"titlePadding":1}},"y":{"field":"y","type":"quantitative","scale":{"domain":[-0.797,0.871],"nice":false,"zero":false},"axis":{"values":[-0.4,0,0.4,0.8],"format":".1f","title":"PCoA2 ( 12% )","titlePadding":4}},"text":{"field":"p"}}},
{"data":{"name":"sd"},"mark":{"type":"text","align":"left","baseline":"middle","fontSize":19,"fontWeight":"bold","dx":101,"color":"#FF0000"},"encoding":{"x":{"field":"x","type":"quantitative","scale":{"domain":[-0.589,0.862],"nice":false,"zero":false},"axis":{"values":[-0.5,0,0.5],"format":".1f","title":"PCoA1 ( 52% )","labelPadding":0,"titlePadding":1}},"y":{"field":"y","type":"quantitative","scale":{"domain":[-0.797,0.871],"nice":false,"zero":false},"axis":{"values":[-0.4,0,0.4,0.8],"format":".1f","title":"PCoA2 ( 12% )","titlePadding":4}},"text":{"field":"pv"}}}
]}
],"spacing":6.0},
{"width":28,"height":271,"view":{"stroke":"transparent","fill":"transparent"},"layer":[
{"data":{"name":"gt"},"mark":{"type":"text","align":"left","baseline":"middle","dx":-14,"dy":-1,"fontSize":18.5,"color":"#111111"},"encoding":{"y":{"field":"pos","type":"quantitative","scale":{"domain":[-3.404,6.559],"reverse":true,"nice":false,"zero":false},"axis":null},"text":{"field":"g"}}},
{"data":{"name":"grp"},"mark":{"type":"square","size":680,"filled":true,"opacity":1,"fillOpacity":0.08,"strokeWidth":1.6},"encoding":{"y":{"field":"pos","type":"quantitative","scale":{"domain":[-3.404,6.559],"reverse":true,"nice":false,"zero":false},"axis":null},"fill":{"field":"g","type":"nominal","scale":{"domain":["A_100","B_300","C_500"],"range":["#EF5458","#F9B26E","#1D5BA6"]},"legend":null},"stroke":{"field":"g","type":"nominal","scale":{"domain":["A_100","B_300","C_500"],"range":["#EA5A5F","#F7AA68","#2D6DB5"]},"legend":null}}},
{"data":{"name":"grp"},"mark":{"type":"point","filled":true,"size":190,"stroke":"#1a1a1a","strokeWidth":0.9,"opacity":1},"encoding":{"y":{"field":"pos","type":"quantitative","scale":{"domain":[-3.404,6.559],"reverse":true,"nice":false,"zero":false},"axis":null},"fill":{"field":"g","type":"nominal","scale":{"domain":["A_100","B_300","C_500"],"range":["#EF5458","#F9B26E","#1D5BA6"]},"legend":null}}},
{"data":{"name":"grp"},"mark":{"type":"text","align":"left","baseline":"middle","dx":24,"fontSize":15,"color":"#111111"},"encoding":{"y":{"field":"pos","type":"quantitative","scale":{"domain":[-3.404,6.559],"reverse":true,"nice":false,"zero":false},"axis":null},"text":{"field":"g"}}}
]}
],"spacing":32.9}
],
"spacing":10.2
}
